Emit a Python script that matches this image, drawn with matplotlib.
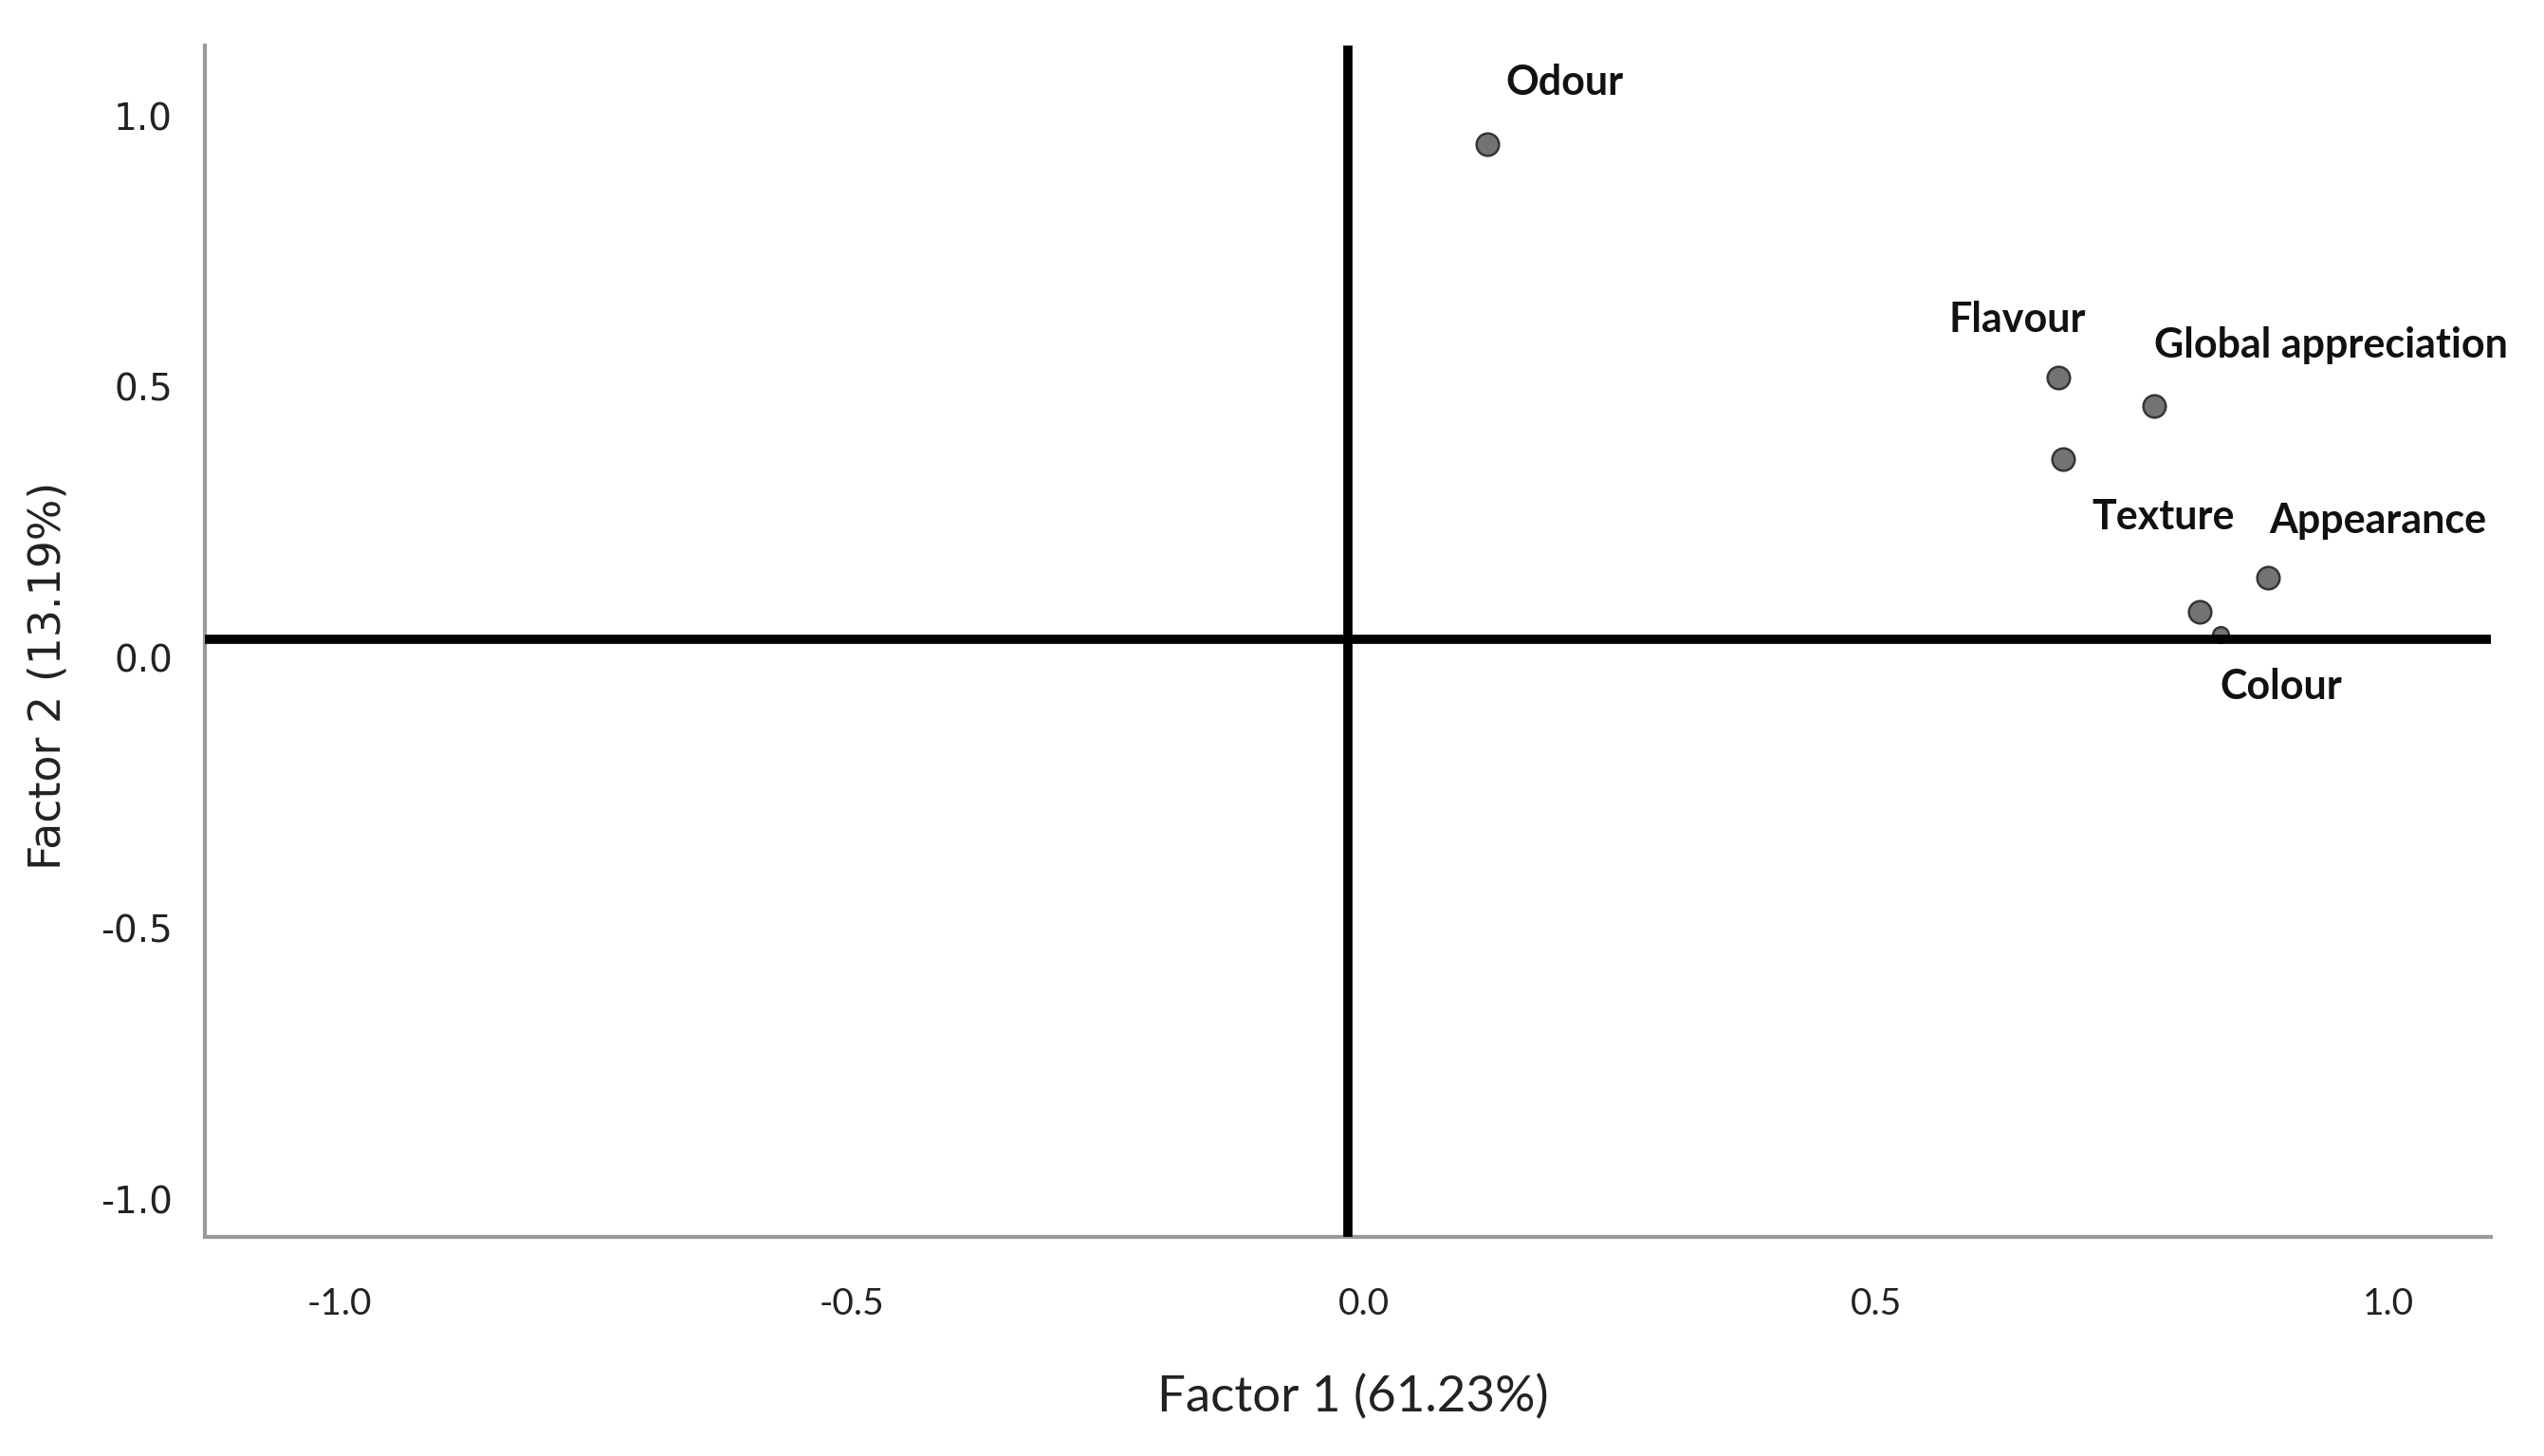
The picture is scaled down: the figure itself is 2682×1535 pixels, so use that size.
import matplotlib
matplotlib.use("Agg")
import matplotlib.pyplot as plt
import matplotlib.transforms as mtransforms

# ---- data -------------------------------------------------------------
attributes = ["Odour", "Flavour", "Global appreciation", "Texture",
              "Appearance", "Colour"]
factor1 = [0.136, 0.693, 0.787, 0.698, 0.898, 0.831]
factor2 = [0.914, 0.483, 0.432, 0.333, 0.114, 0.051]

# one further loading lying (almost) under the horizontal axis line
hidden_f1 = [0.852]
hidden_f2 = [0.010]

tick_values = [-1.0, -0.5, 0.0, 0.5, 1.0]
tick_labels = ["-1.0", "-0.5", "0.0", "0.5", "1.0"]
xlabel = "Factor 1 (61.23%)"
ylabel = "Factor 2 (13.19%)"

# label offsets (points) relative to each marker
label_offsets = [(59, 47), (-31, 44), (134, 46), (76, -44),
                 (83, 43), (62, -57)]

# ---- figure -----------------------------------------------------------
W, H = 2682, 1535
fig = plt.figure(figsize=(W / 100, H / 100), dpi=100)
ax = fig.add_axes([126 / 1568, 1 - 762 / 897, (1535 - 126) / 1568, (762 - 28) / 897])

ax.set_xlim(-1.116, 1.115)
ax.set_ylim(-1.103, 1.097)

for s in ["top", "right"]:
    ax.spines[s].set_visible(False)
for s in ["left", "bottom"]:
    ax.spines[s].set_color("#9a9a9a")
    ax.spines[s].set_linewidth(3)

ax.axhline(0, color="black", lw=7, zorder=5)
ax.axvline(0, color="black", lw=7, zorder=5)

ax.scatter(factor1, factor2, s=17 ** 2, color="#737373", edgecolor="#353535",
           linewidth=1.8, zorder=4)
ax.scatter(hidden_f1, hidden_f2, s=12 ** 2, color="#737373", edgecolor="#353535",
           linewidth=1.8, zorder=3)

for name, x, y, off in zip(attributes, factor1, factor2, label_offsets):
    ax.annotate(name, (x, y), xytext=off, textcoords="offset points",
                ha="center", va="center", fontsize=31, fontweight="bold",
                family="Lato", color="#111111", zorder=6)

ax.set_xticks(tick_values)
ax.set_xticklabels(tick_labels, family="Lato", fontsize=28, color="#222222")
ax.set_yticks(tick_values)
ax.set_yticklabels(tick_labels, family="DejaVu Sans", fontsize=28, color="#222222")
ax.tick_params(axis="both", length=0)
ax.tick_params(axis="x", pad=38)
ax.tick_params(axis="y", pad=24)

dx = mtransforms.ScaledTranslation(0.17, 0, fig.dpi_scale_trans)
for lab in ax.get_xticklabels():
    lab.set_transform(lab.get_transform() + dx)
dy = mtransforms.ScaledTranslation(0, -0.19, fig.dpi_scale_trans)
for lab in ax.get_yticklabels():
    lab.set_transform(lab.get_transform() + dy)

fig.text(834 / 1568, 1 - 861 / 897, xlabel, family="Lato", fontsize=38,
         ha="center", va="center", color="#222222")
fig.text(30 / 1568, 1 - 416 / 897, ylabel, family="DejaVu Sans", fontsize=33,
         ha="center", va="center", rotation=90, color="#222222")

fig.savefig("out.png", dpi=100)
